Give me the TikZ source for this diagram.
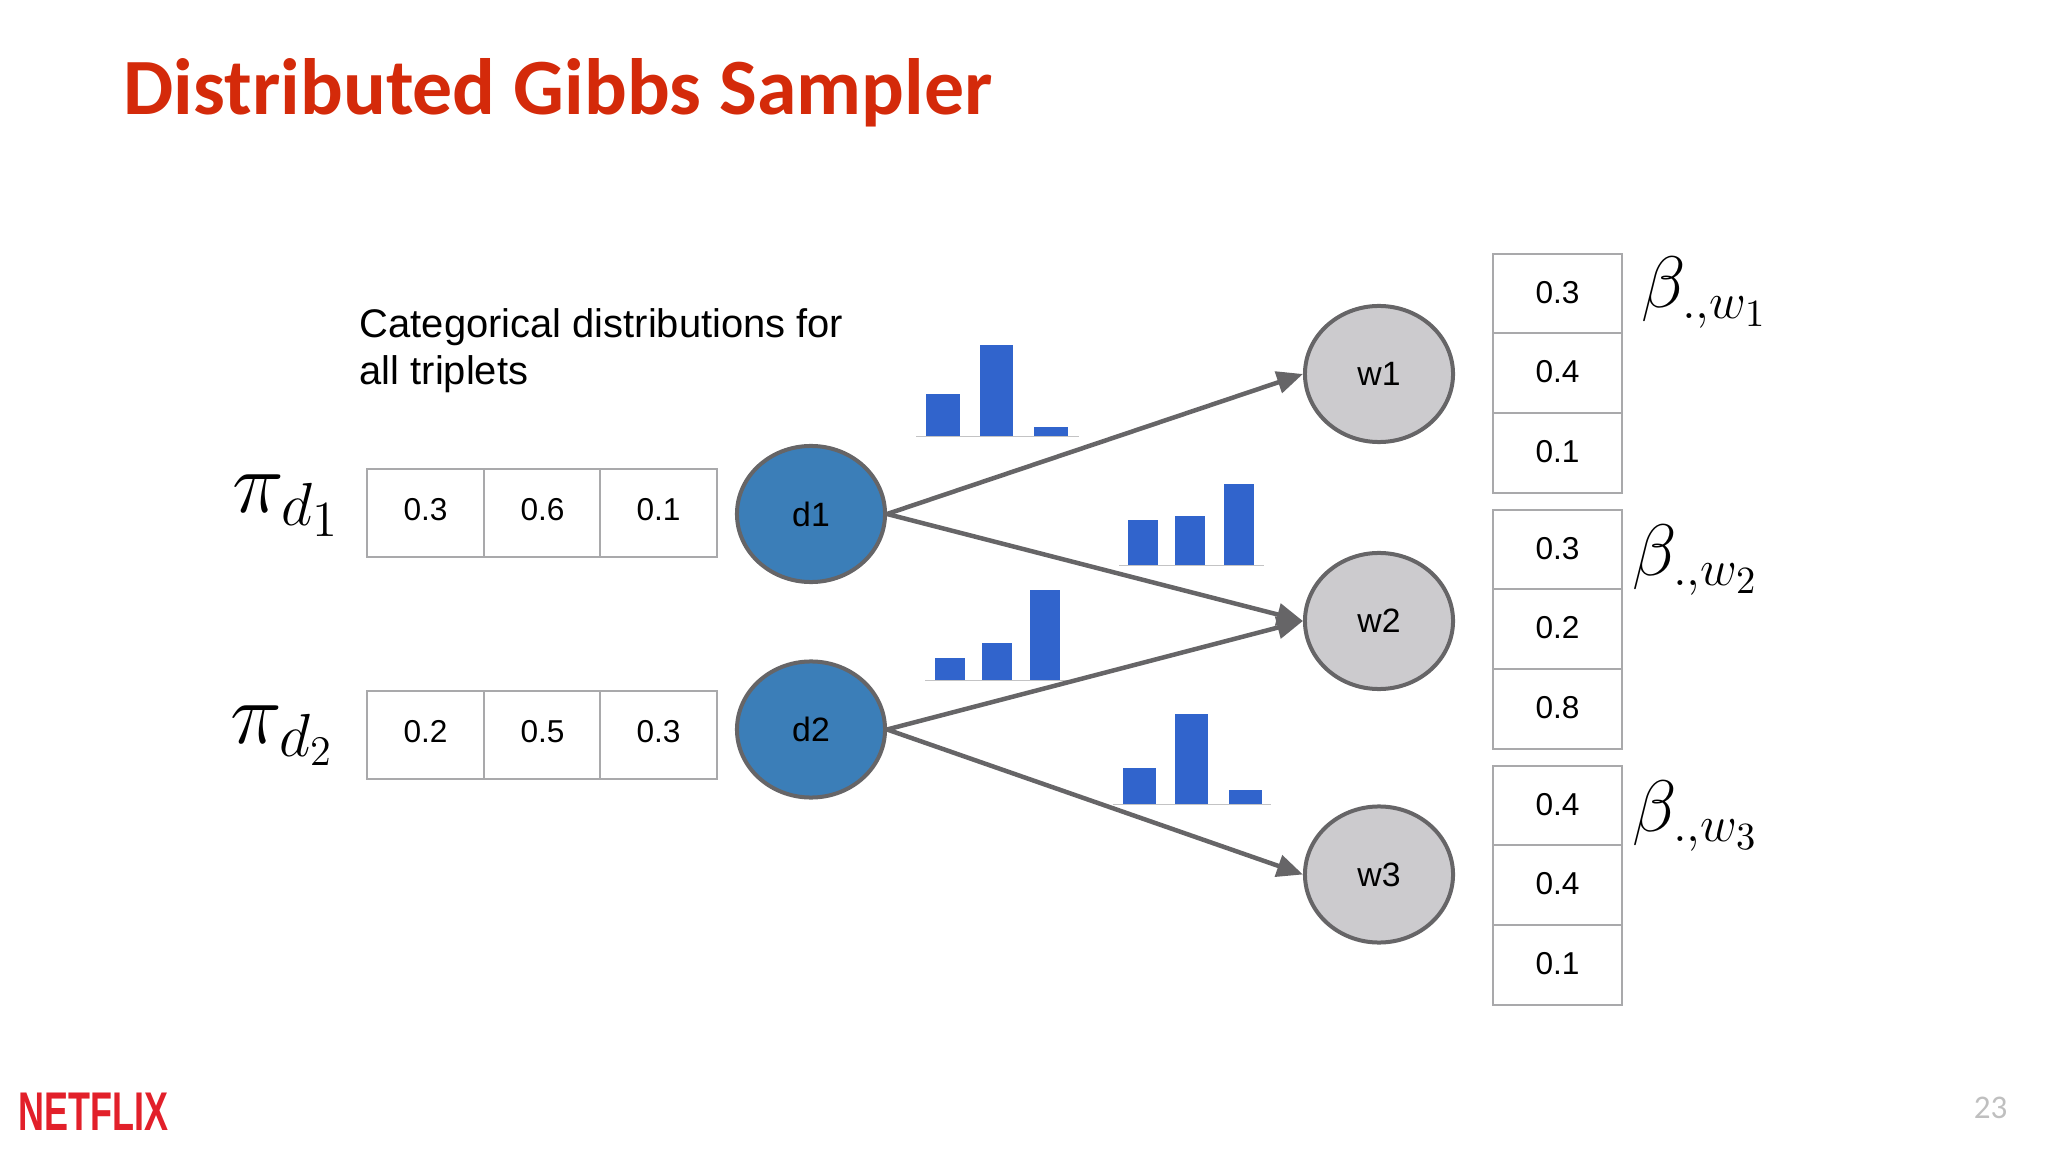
\documentclass[tikz,border=0pt]{standalone}
\usepackage{amsmath}
\usepackage{fontspec}
\setmainfont{Liberation Sans}
\newfontfamily\titlefont{Carlito}
\usetikzlibrary{arrows.meta,positioning,shapes.geometric}
\definecolor{titlered}{HTML}{D42A0A}
\definecolor{logored}{HTML}{E2202A}
\definecolor{docblue}{HTML}{3B7EB8}
\definecolor{wordgray}{HTML}{CCCBCE}
\definecolor{edgegray}{HTML}{666567}
\definecolor{cellgray}{HTML}{A9A9AB}
\definecolor{barblue}{HTML}{3164CC}
\tikzset{
  probcell/.style={draw=cellgray,line width=0.2mm,fill=white,inner sep=0pt,align=center,font=\fontsize{9}{10}\selectfont,text height=6.4pt},
  picell/.style={probcell,minimum width=1.167cm,minimum height=0.874cm,text depth=2.2pt},
  betacell/.style={probcell,minimum width=1.293cm,minimum height=0.792cm,text depth=0.8pt},
  docnode/.style={ellipse,draw=edgegray,line width=0.4mm,fill=docblue,minimum width=1.48cm,minimum height=1.36cm,inner sep=0pt,font=\fontsize{9.6}{11}\selectfont},
  wordnode/.style={docnode,fill=wordgray},
  edgearrow/.style={draw=edgegray,line width=0.45mm,-{Triangle[length=2.6mm,width=2.2mm]}},
  barrect/.style={fill=barblue,draw=none},
  barbase/.style={draw=cellgray!70,line width=0.1mm},
  mathlabel/.style={inner sep=0pt,anchor=base west}
}
\begin{document}
\begin{tikzpicture}[>=Latex,x=0.01cm,y=-0.01cm]
\useasboundingbox (0,0) rectangle (2048,1152);
\node[anchor=base west,inner sep=0pt,text=titlered,font=\titlefont\bfseries\fontsize{22.7}{28}\selectfont] (title) at (123,115) {Distributed Gibbs Sampler};
\node[anchor=north west,inner sep=0pt,align=left,font=\fontsize{11.35}{13.4}\selectfont] (caption) at (359,308) {Categorical distributions for\\all triplets};

% bar charts
\draw[barrect] (926,394) rectangle (960,437);
\draw[barrect] (980,345) rectangle (1013,437);
\draw[barrect] (1034,427) rectangle (1068,437);
\coordinate (base1_l) at (916,437);
\coordinate (base1_r) at (1079,437);
\draw[barbase] (base1_l)--(base1_r);
\draw[barrect] (1128,520) rectangle (1158,566);
\draw[barrect] (1175,516) rectangle (1205,566);
\draw[barrect] (1224,484) rectangle (1254,566);
\coordinate (base2_l) at (1119,566);
\coordinate (base2_r) at (1264,566);
\draw[barbase] (base2_l)--(base2_r);
\draw[barrect] (935,658) rectangle (965,680);
\draw[barrect] (982,643) rectangle (1012,680);
\draw[barrect] (1030,590) rectangle (1060,680);
\coordinate (base3_l) at (925,680);
\coordinate (base3_r) at (1071,680);
\draw[barbase] (base3_l)--(base3_r);
\draw[barrect] (1123,768) rectangle (1156,804);
\draw[barrect] (1175,714) rectangle (1208,804);
\draw[barrect] (1229,790) rectangle (1262,804);
\coordinate (base4_l) at (1113,804);
\coordinate (base4_r) at (1271,804);
\draw[barbase] (base4_l)--(base4_r);

% documents
\node[mathlabel] (pi_d1) at (232,512) {\fontsize{26.5}{30}\selectfont$\pi_{d_1}$};
\node[picell] (pi1_a) at (425.5,513) {0.3};
\node[picell] (pi1_b) at (542.5,513) {0.6};
\node[picell] (pi1_c) at (658.5,513) {0.1};
\node[docnode] (d1) at (811,514) {d1};
\node[mathlabel] (pi_d2) at (230,743) {\fontsize{26}{30}\selectfont$\pi_{d_2}$};
\node[picell] (pi2_a) at (425.5,735) {0.2};
\node[picell] (pi2_b) at (542.5,735) {0.5};
\node[picell] (pi2_c) at (658.5,735) {0.3};
\node[docnode] (d2) at (811,729.5) {d2};

% words
\node[wordnode] (w1) at (1379,374) {w1};
\node[wordnode] (w2) at (1379,621) {w2};
\node[wordnode] (w3) at (1379,874.5) {w3};
\node[betacell] (beta1_a) at (1557.5,294) {0.3};
\node[betacell] (beta1_b) at (1557.5,373) {0.4};
\node[betacell] (beta1_c) at (1557.5,453) {0.1};
\node[mathlabel] (beta_w1) at (1641,308) {\fontsize{22.5}{30}\selectfont$\beta_{.,w_1}$};
\node[betacell] (beta2_a) at (1557.5,550) {0.3};
\node[betacell] (beta2_b) at (1557.5,629) {0.2};
\node[betacell] (beta2_c) at (1557.5,709) {0.8};
\node[mathlabel] (beta_w2) at (1632,575) {\fontsize{22.5}{30}\selectfont$\beta_{.,w_2}$};
\node[betacell] (beta3_a) at (1557.5,806) {0.4};
\node[betacell] (beta3_b) at (1557.5,885) {0.4};
\node[betacell] (beta3_c) at (1557.5,965) {0.1};
\node[mathlabel] (beta_w3) at (1632,831) {\fontsize{22.5}{30}\selectfont$\beta_{.,w_3}$};

\draw[edgearrow] (d1.east)--(w1.west);
\draw[edgearrow] (d1.east)--(w2.west);
\draw[edgearrow] (d2.east)--(w2.west);
\draw[edgearrow] (d2.east)--(w3.west);

\node[anchor=base west,inner sep=0pt,text=logored,xscale=0.66,font=\bfseries\fontsize{15.5}{16}\selectfont] (logo) at (18,1130) {NETFLIX};
\node[anchor=base east,inner sep=0pt,text=black!25,font=\titlefont\fontsize{9.4}{10}\selectfont] (pagenum) at (2008,1118) {23};
\end{tikzpicture}
\end{document}
